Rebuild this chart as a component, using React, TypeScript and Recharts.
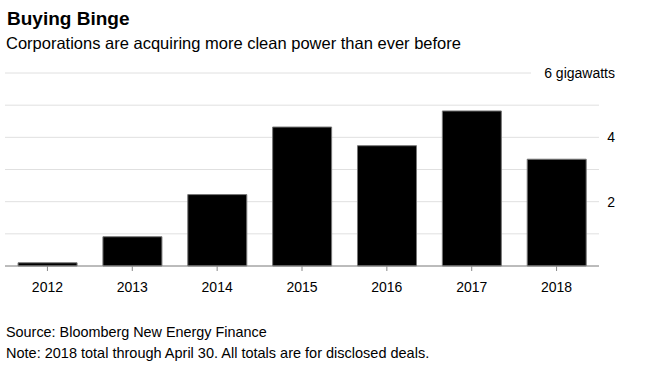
import { BarChart, Bar, XAxis, YAxis, CartesianGrid } from 'recharts';

const years = ['2012', '2013', '2014', '2015', '2016', '2017', '2018'];
const gigawatts = [0.1, 0.91, 2.22, 4.32, 3.74, 4.82, 3.32];
const yTicks = [0, 1, 2, 3, 4, 5, 6];
const labeledTicks = [2, 4, 6];

const FONT = '"Liberation Sans", Arial, Helvetica, sans-serif';

const data = years.map((year, i) => ({ year, value: gigawatts[i] }));

function RightTick(props: any) {
  const { x, y, payload } = props;
  const v = payload.value;
  if (!labeledTicks.includes(v)) return null;
  const top = v === yTicks[yTicks.length - 1];
  return (
    <g>
      {top && <rect x={x - 70} y={y - 8} width={120} height={16} fill="#fff" />}
      <text
        x={x + 14}
        y={y}
        dy="0.35em"
        textAnchor="end"
        fill="#000"
        fontSize={14}
        fontFamily={FONT}
      >
        {top ? `${v} gigawatts` : v}
      </text>
    </g>
  );
}

export default function App() {
  return (
    <div style={{ position: 'absolute', left: 0, top: 0, width: 647, height: 373, background: '#fff' }}>
      <BarChart
        width={647}
        height={373}
        data={data}
        margin={{ top: 73, right: 0, left: 5, bottom: 0 }}
        barCategoryGap="15.4%"
      >
        <CartesianGrid vertical={false} stroke="#e0e0e0" strokeWidth={1} />
        <XAxis
          dataKey="year"
          height={107}
          axisLine={{ stroke: '#888' }}
          tickLine={{ stroke: '#888' }}
          tickSize={5}
          tickMargin={11}
          tick={{ fill: '#000', fontSize: 14, fontFamily: FONT }}
        />
        <YAxis
          orientation="right"
          width={48}
          domain={[0, 6]}
          ticks={yTicks}
          interval={0}
          axisLine={false}
          tickLine={false}
          tickSize={0}
          tickMargin={2}
          tick={<RightTick />}
        />
        <Bar dataKey="value" fill="#000" stroke="#777" strokeWidth={1} isAnimationActive={false} />
      </BarChart>
      <svg
        width={647}
        height={373}
        style={{ position: 'absolute', left: 0, top: 0, pointerEvents: 'none' }}
      >
        <text x={7} y={25} fontSize={19} fontWeight="bold" fontFamily={FONT} fill="#000">
          Buying Binge
        </text>
        <text x={6} y={49} fontSize={16.5} fontFamily={FONT} fill="#000">
          Corporations are acquiring more clean power than ever before
        </text>
        <text x={6} y={337} fontSize={14.4} fontFamily={FONT} fill="#000">
          Source: Bloomberg New Energy Finance
        </text>
        <text x={6} y={358} fontSize={14.5} fontFamily={FONT} fill="#000">
          Note: 2018 total through April 30. All totals are for disclosed deals.
        </text>
      </svg>
    </div>
  );
}
